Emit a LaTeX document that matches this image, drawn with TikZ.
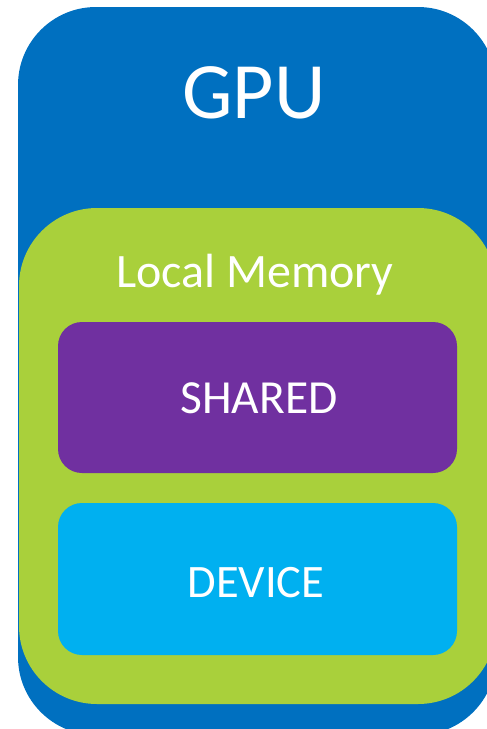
\documentclass[tikz,border=0pt]{standalone}
\usepackage{fontspec}
\setmainfont{Carlito}
\definecolor{gpublue}{HTML}{0070C0}
\definecolor{memgreen}{HTML}{A9D03B}
\definecolor{sharedpurple}{HTML}{7030A0}
\definecolor{devicecyan}{HTML}{00B0F0}
\begin{document}
\begin{tikzpicture}[x=1pt,y=-1pt,
  lbl/.style={text=white,anchor=base,inner sep=0pt},
  bigbox/.style={rounded corners=78pt},
  smallbox/.style={rounded corners=24pt}]
\useasboundingbox (0,0) rectangle (487,729);
\clip (0,0) rectangle (487,729);
\fill[gpublue,bigbox] (18,7) rectangle (496,735);
\fill[memgreen,bigbox] (19,208) rectangle (496,704);
\fill[sharedpurple,smallbox] (58,322) rectangle (457,473);
\fill[devicecyan,smallbox] (58,503) rectangle (457,655);
\node[lbl,font=\fontsize{80}{82}\selectfont] (gpu) at (254,118) {GPU};
\node[lbl,font=\fontsize{48}{50}\selectfont] (local) at (255,287) {Local Memory};
\node[lbl,font=\fontsize{47.5}{49}\selectfont] (shared) at (259,413) {SHARED};
\node[lbl,font=\fontsize{46.5}{48}\selectfont] (device) at (256,597) {DEVICE};
\end{tikzpicture}
\end{document}
